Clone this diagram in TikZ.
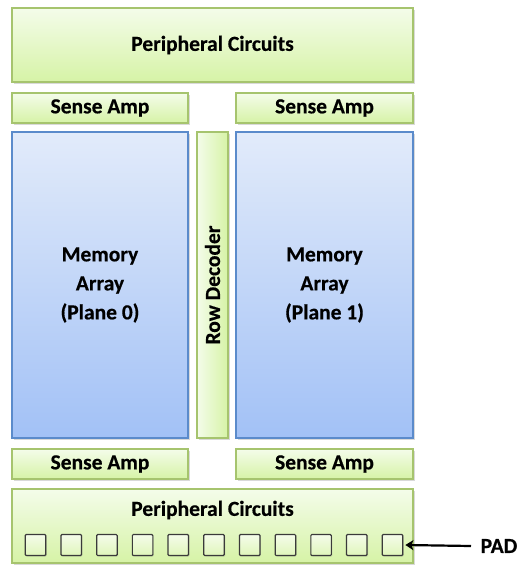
\documentclass[tikz,border=0pt]{standalone}
\usepackage{fontspec}
\setmainfont{Carlito}
\newfontfamily\cbold{Carlito Bold}[FakeBold=0.4]
\usetikzlibrary{shadows,arrows.meta}
\definecolor{gtop}{HTML}{F4FCEA}
\definecolor{gbot}{HTML}{D6F3A6}
\definecolor{gline}{HTML}{A6C46E}
\definecolor{btop}{HTML}{E2EBFA}
\definecolor{bbot}{HTML}{A2C1F6}
\definecolor{bline}{HTML}{5B8BCB}
\definecolor{padline}{HTML}{3A3A3A}
\begin{document}
\begin{tikzpicture}[x=1pt,y=-1pt,
  shad/.style={drop shadow={shadow xshift=1.5pt,shadow yshift=-1.5pt,opacity=0.3}},
  box/.style={shad,line width=1.1pt,inner sep=0pt,align=center,
    font=\cbold\fontsize{21.5}{29}\selectfont},
  greenbox/.style={box,draw=gline,top color=gtop,bottom color=gbot},
  bluebox/.style={box,draw=bline,top color=btop,bottom color=bbot},
  pad/.style={draw=padline,line width=1.2pt,rounded corners=1pt,top color=gtop,bottom color=gbot!70!gtop,
    minimum width=20.5pt,minimum height=21pt,inner sep=0pt,
    drop shadow={shadow xshift=1pt,shadow yshift=-1pt,opacity=0.25}},
  lbl/.style={font=\cbold\fontsize{21.5}{24}\selectfont}
]
\useasboundingbox (0,0) rectangle (520,565);

\node[greenbox,minimum width=401pt,minimum height=74pt] (ptop) at (212.5,45) {Peripheral Circuits};

\node[greenbox,minimum width=176pt,minimum height=30pt] (sa1) at (100,108) {Sense Amp};
\node[greenbox,minimum width=177pt,minimum height=30pt] (sa2) at (324.5,108) {Sense Amp};

\node[bluebox,minimum width=176pt,minimum height=306pt] (m0) at (100,285) {Memory\\Array\\(Plane 0)};
\node[box,draw=gline,left color=gtop,right color=gbot,minimum width=31pt,minimum height=306pt] (rd) at (212.5,285) {\rotatebox{90}{Row Decoder}};
\node[bluebox,minimum width=177pt,minimum height=306pt] (m1) at (324.5,285) {Memory\\Array\\(Plane 1)};

\node[greenbox,minimum width=176pt,minimum height=30pt] (sa3) at (100,464) {Sense Amp};
\node[greenbox,minimum width=177pt,minimum height=30pt] (sa4) at (324.5,464) {Sense Amp};

\node[greenbox,minimum width=401pt,minimum height=74pt] (pbot) at (212.5,526) {};
\node[lbl] (pbtext) at (212.5,510) {Peripheral Circuits};

\foreach \i in {0,...,10} {
  \node[pad] (pad\i) at (35.5+35.7*\i,545) {};
}

\node[lbl] (padlbl) at (499,546) {PAD};
\coordinate (astart) at (471,546);
\draw[line width=2.2pt,-{Stealth[length=8pt,width=10pt,inset=2pt]}] (astart) -- ([xshift=2pt]pad10.east);
\end{tikzpicture}
\end{document}
